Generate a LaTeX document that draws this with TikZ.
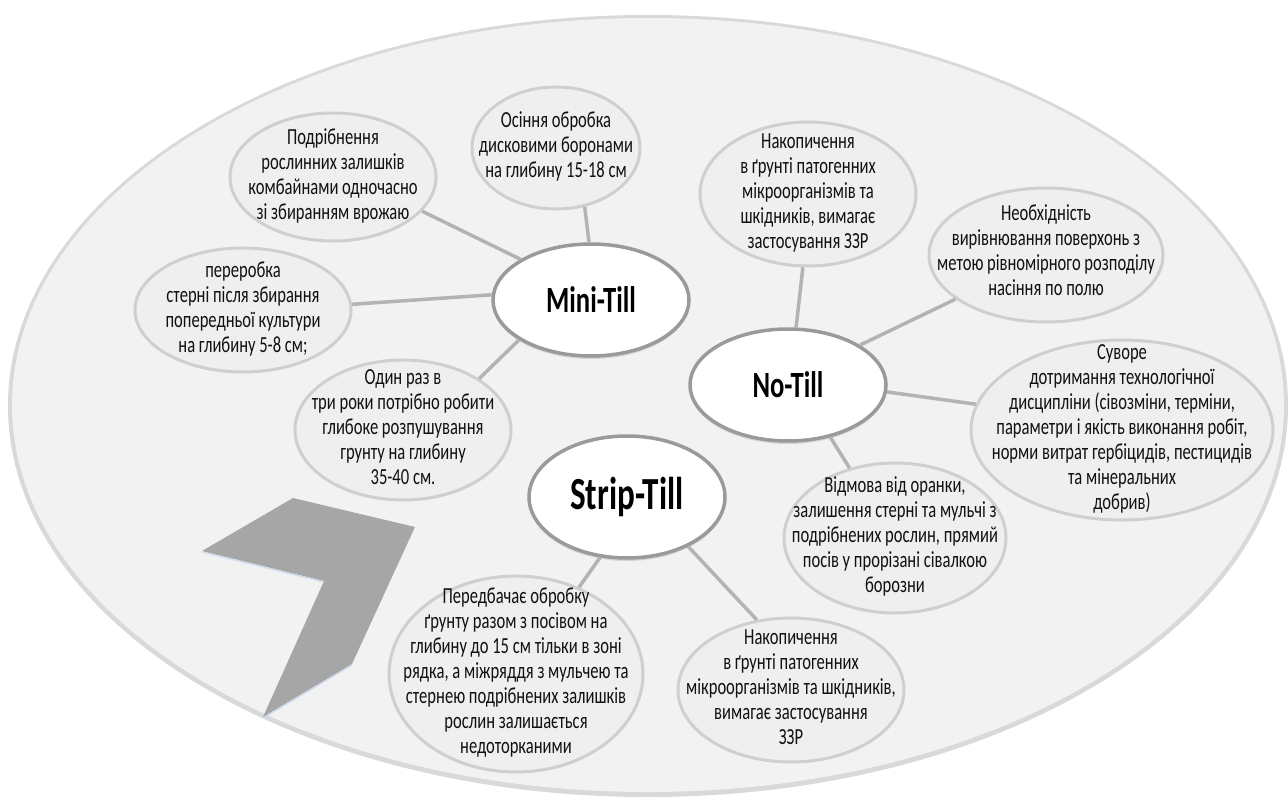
\documentclass[tikz,border=0pt]{standalone}
\usepackage{fontspec}
\setmainfont{Carlito}[FakeStretch=0.72]
\usetikzlibrary{shapes.geometric,shadows}
\definecolor{bigfill}{HTML}{F2F2F2}
\definecolor{bigedge}{HTML}{D9D9D9}
\definecolor{bubfill}{HTML}{EFEFEF}
\definecolor{bubedge}{HTML}{CFCFCF}
\definecolor{hubedge}{HTML}{9A9A9A}
\definecolor{linkcol}{HTML}{B3B3B3}
\definecolor{chevcol}{HTML}{A6A6A6}
\definecolor{chevblue}{HTML}{C9DAF0}
\definecolor{txtcol}{HTML}{111111}
\newcommand\bubtext[1]{\makebox[0pt]{\raisebox{-0.25em}[0pt][0pt]{\begin{tabular}{@{}c@{}}#1\end{tabular}}}}
\tikzset{
  bubble/.style={ellipse, fill=bubfill, draw=bubedge, line width=3pt, inner sep=0pt,
    text=txtcol, font=\fontsize{23}{25}\selectfont},
  hub/.style={ellipse, fill=white, draw=hubedge, line width=3.5pt, inner sep=0pt,
    minimum width=196pt, text=black,
    drop shadow={opacity=0.25, shadow xshift=0pt, shadow yshift=-3pt}},
  link/.style={draw=linkcol, line width=3.5pt}
}
\begin{document}
\begin{tikzpicture}[x=1pt,y=-1pt]
\useasboundingbox (0,0) rectangle (1288,797);
\fill[white] (0,0) rectangle (1288,797);
% big background ellipse
\fill[bigedge] (648,406) ellipse [x radius=640, y radius=391];
\fill[bigfill] (648,405) ellipse [x radius=636, y radius=387];
% chevron
\fill[chevcol] (202,551) -- (293,498) -- (415,527) -- (352,664) -- (263,717) -- (324,581) -- cycle;
\draw[chevblue, line width=1.2pt] (202,552) -- (324,582);
\draw[chevblue, line width=1.2pt] (263,718) -- (352,665);
% bubbles
\node[bubble, minimum width=206pt, minimum height=128pt] (p) at (333,177)
  {\bubtext{Подрібнення\\рослинних залишків\\комбайнами одночасно\\зі збиранням врожаю}};
\node[bubble, minimum width=168pt, minimum height=122pt] (o) at (556,148)
  {\bubtext{Осіння обробка\\дисковими боронами\\на глибину 15-18 см}};
\node[bubble, minimum width=216pt, minimum height=124pt] (r) at (243,310)
  {\bubtext{переробка\\стерні після збирання\\попередньої культури\\на глибину 5-8 см;}};
\node[bubble, minimum width=216pt, minimum height=140pt] (d) at (403,430)
  {\bubtext{Один раз в\\три роки потрібно робити\\глибоке розпушування\\грунту на глибину\\35-40 см.}};
\node[bubble, minimum width=216pt, minimum height=144pt] (t) at (808,194)
  {\bubtext{Накопичення\\в ґрунті патогенних\\мікроорганізмів та\\шкідників, вимагає\\застосування ЗЗР}};
\node[bubble, minimum width=234pt, minimum height=134pt] (e) at (1046,255)
  {\raisebox{4pt}{\bubtext{Необхідність\\вирівнювання поверхонь з\\метою рівномірного розподілу\\насіння по полю}}};
\node[bubble, minimum width=302pt, minimum height=180pt] (s) at (1122,430)
  {\bubtext{Суворе\\дотримання технологічної\\дисципліни (сівозміни, терміни,\\параметри і якість виконання робіт,\\норми витрат гербіцидів, пестицидів\\та мінеральних\\добрив)}};
\node[bubble, minimum width=222pt, minimum height=150pt] (v) at (895,538)
  {\bubtext{Відмова від оранки,\\залишення стерні та мульчі з\\подрібнених рослин, прямий\\посів у прорізані сівалкою\\борозни}};
\node[bubble, minimum width=226pt, minimum height=144pt] (k) at (791,690)
  {\bubtext{Накопичення\\в ґрунті патогенних\\мікроорганізмів та шкідників,\\вимагає застосування\\ЗЗР}};
\node[bubble, minimum width=254pt, minimum height=196pt] (b) at (516,674)
  {\bubtext{Передбачає обробку\\ґрунту разом з посівом на\\глибину до 15 см тільки в зоні\\рядка, а міжряддя з мульчею та\\стернею подрібнених залишків\\рослин залишається\\недоторканими}};
% hubs
\node[hub, minimum height=112pt, font=\bfseries\fontsize{37}{42}\selectfont] (mini) at (591,300) {Mini-Till};
\node[hub, minimum height=112pt, font=\bfseries\fontsize{37}{42}\selectfont] (no) at (788,385) {No-Till};
\node[hub, minimum height=122pt, font=\bfseries\fontsize{46}{52}\selectfont] (strip) at (627,497) {Strip-Till};
% connectors
\draw[link] (p.-21) -- (mini.150);
\draw[link] (o.-64) -- (mini.92);
\draw[link] (r.3) -- (mini.177);
\draw[link] (d.34) -- (mini.209);
\draw[link] (t.266) -- (no.82);
\draw[link] (e.206) -- (no.29);
\draw[link] (s.170) -- (no.-4);
\draw[link] (v.123) -- (no.-51);
\draw[link] (b.54) -- (strip.246);
\draw[link] (k.116) -- (strip.-39);
\end{tikzpicture}
\end{document}
